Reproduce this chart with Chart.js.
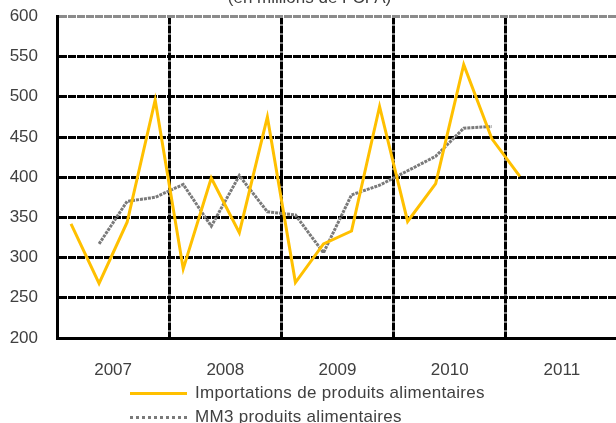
<!DOCTYPE html>
<html>
<head>
<meta charset="utf-8">
<script src="https://cdn.jsdelivr.net/npm/chart.js@4.4.0/dist/chart.umd.min.js"></script>
<style>
  html, body { margin: 0; padding: 0; background: #fff; overflow: hidden; }
  body { width: 616px; height: 423px; position: relative; font-family: "Liberation Sans", Arial, sans-serif; }
  #wrap { position: absolute; left: 0; top: -14px; width: 640px; height: 400px; }
  #legend { position: absolute; left: 130px; top: 381px; font-size: 17px; color: #404040; letter-spacing: 0.3px; }
  .item { display: flex; align-items: center; height: 24px; }
  .swatch { width: 57px; margin-right: 8px; }
</style>
</head>
<body>
<div id="wrap"><canvas id="chart" width="640" height="400"></canvas></div>
<div id="legend"></div>
<script>
  const years = ["2007", "2008", "2009", "2010", "2011"];
  const quarterCount = 20;
  // importations trimestrielles, 2007T1 -> 2011T1
  const imports = [342, 268, 344, 496, 286, 399, 331, 475, 269, 317, 333, 488, 345, 392, 540, 448, 401];
  // moyenne mobile 3 trimestres (premier point au 2e trimestre 2007)
  const mm3 = [null, 317, 370, 375, 391, 339, 402, 357, 353, 306, 378, 390, 408, 426, 461, 463];
  const yTicks = [200, 250, 300, 350, 400, 450, 500, 550, 600];

  const toPoints = (arr) => arr.map((v, i) => ({ x: i + 0.5, y: v })).filter(p => p.y !== null);
  const tickFont = { family: "Liberation Sans", size: 17 };

  const ctx = document.getElementById("chart");
  const chart = new Chart(ctx, {
    type: "line",
    data: {
      datasets: [
        {
          label: "Importations de produits alimentaires",
          data: toPoints(imports),
          borderColor: "#FFC000",
          borderWidth: 3,
          pointRadius: 0,
          tension: 0,
        },
        {
          label: "MM3 produits alimentaires",
          data: toPoints(mm3),
          borderColor: "#7a7a7a",
          borderWidth: 3,
          borderDash: [3, 1],
          pointRadius: 0,
          tension: 0,
        },
      ],
    },
    options: {
      responsive: false,
      animation: false,
      layout: { padding: { left: 0, right: 21, top: 0, bottom: 0 } },
      plugins: {
        legend: { display: false },
        tooltip: { enabled: false },
        title: {
          display: true,
          text: "(en millions de FCFA)",
          color: "#404040",
          font: { family: "Liberation Sans", size: 17, weight: "normal" },
          padding: { top: 2, bottom: 8 },
        },
      },
      scales: {
        x: {
          type: "linear",
          min: 0,
          max: quarterCount,
          afterBuildTicks: (s) => {
            s.ticks = [];
            for (let v = 0; v <= quarterCount; v += 2) s.ticks.push({ value: v });
          },
          afterFit: (s) => { s.height = 48; },
          ticks: {
            autoSkip: false,
            maxRotation: 0,
            padding: 22,
            color: "#404040",
            font: tickFont,
            callback: (v) => (v % 4 === 2 ? years[(v - 2) / 4] : ""),
          },
          grid: {
            drawTicks: false,
            lineWidth: 3,
            color: (c) => (c.tick && c.tick.value % 4 === 0 && c.tick.value > 0 ? "#000" : "rgba(0,0,0,0)"),
          },
          border: { display: true, color: "#000", width: 3, dash: [8, 1] },
        },
        y: {
          min: 200,
          max: 600,
          afterBuildTicks: (s) => { s.ticks = yTicks.map(v => ({ value: v })); },
          afterFit: (s) => { s.width = 57; },
          ticks: {
            padding: 19,
            color: "#404040",
            font: tickFont,
          },
          grid: {
            drawTicks: false,
            lineWidth: 3,
            color: (c) => (c.tick && c.tick.value === 600 ? "#8c8c8c" : "#000"),
          },
          border: { display: true, color: "#000", width: 3, dash: [8, 1] },
        },
      },
    },
  });

  // HTML legend, left-aligned rows as in the reference
  const legend = document.getElementById("legend");
  chart.data.datasets.forEach((ds) => {
    const row = document.createElement("div");
    row.className = "item";
    const sw = document.createElement("span");
    sw.className = "swatch";
    sw.style.borderTop = ds.borderDash ? "3px dotted " + ds.borderColor : "3px solid " + ds.borderColor;
    const txt = document.createElement("span");
    txt.textContent = ds.label;
    row.appendChild(sw);
    row.appendChild(txt);
    legend.appendChild(row);
  });
</script>
</body>
</html>
